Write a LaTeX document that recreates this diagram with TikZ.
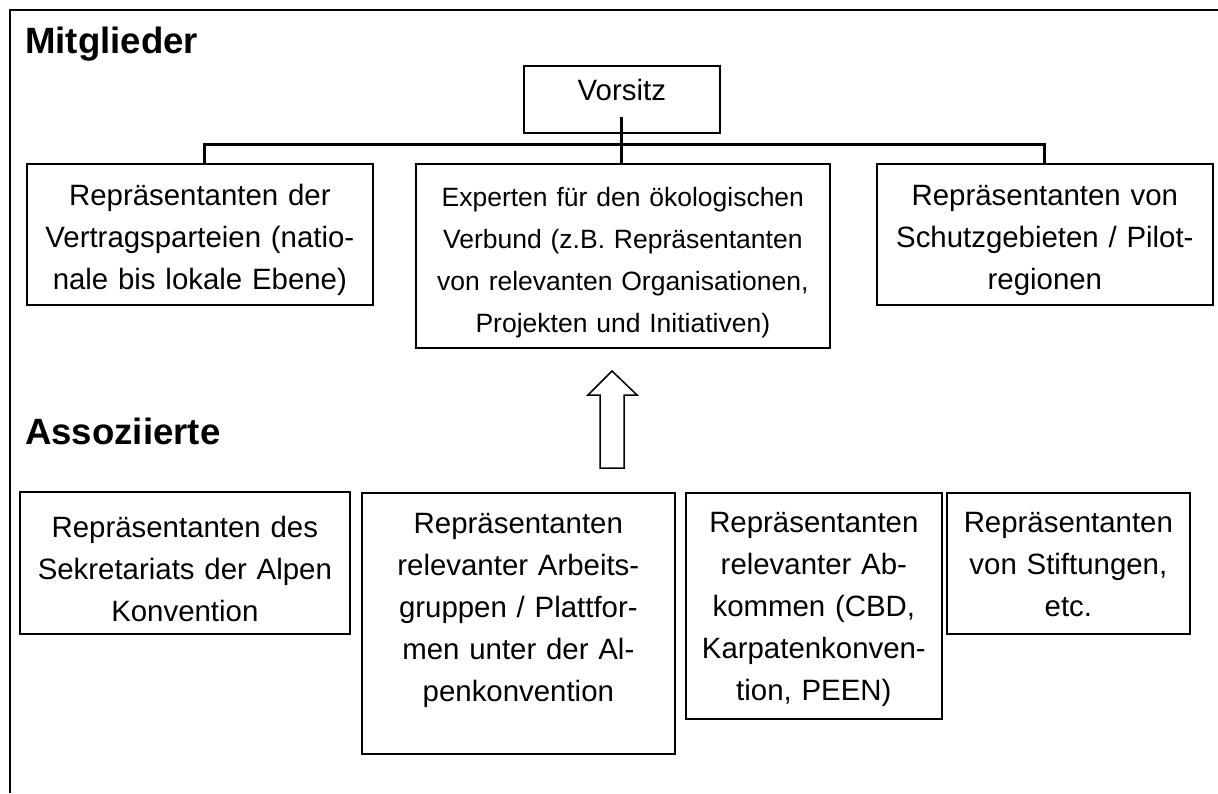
\documentclass[tikz,border=0pt]{standalone}
\usepackage{fontspec}
\setmainfont{Liberation Sans}
\usetikzlibrary{positioning}

\tikzset{
  kasten/.style={draw,line width=1.7pt,anchor=north west,align=center,inner xsep=4pt,inner ysep=0pt,
    font=\fontsize{29.4}{42}\selectfont},
  klein/.style={font=\fontsize{26.5}{42}\selectfont},
  titel/.style={anchor=base west,inner sep=0pt,font=\fontsize{36.6}{44}\selectfont\bfseries},
  verbindung/.style={line width=3pt},
}

\begin{document}
\begin{tikzpicture}[x=1pt,y=-1pt]

    \useasboundingbox (0,0) rectangle (1218,793);

    % --------------------------------------------------------- %
    % ------------- frame and titles
    % --------------------------------------------------------- %
    \draw[line width=2pt] (1218,10) -- (10,10) -- (10,793);
    \node[titel] (mitglieder) at (25,53) {Mitglieder};
    \node[titel] (assoziierte) at (25,444) {Assoziierte};

    % --------------------------------------------------------- %
    % ------------- members
    % --------------------------------------------------------- %
    \node[kasten,text width=188pt,text height=35pt,text depth=32pt] (vorsitz) at (523,65) {Vorsitz};

    \node[kasten,text width=338pt,text height=42pt,text depth=99pt] (vertrag) at (26,163)
      {Repräsentanten der\\Vertragsparteien (natio-\\nale bis lokale Ebene)};
    \node[kasten,klein,text width=406pt,text height=43pt,text depth=141pt] (experten) at (415,163)
      {Experten für den ökologischen\\Verbund (z.B. Repräsentanten\\von relevanten Organisationen,\\Projekten und Initiativen)};
    \node[kasten,text width=328pt,text height=42pt,text depth=99pt] (schutz) at (876,163)
      {Repräsentanten von\\Schutzgebieten / Pilot-\\regionen};

    \coordinate (vstart) at (621,117);
    \coordinate (links) at (204,144);
    \coordinate (rechts) at (1044,144);
    \draw[verbindung] (links |- vertrag.north) -- (links) -- (rechts) -- (rechts |- schutz.north);
    \draw[verbindung] (vstart) -- (vstart |- experten.north);

    % --------------------------------------------------------- %
    % ------------- associates
    % --------------------------------------------------------- %
    \draw[line width=1.5pt,line join=miter] (600,468) -- (600,395) -- (588,395) -- (612,371)
      -- (637,395) -- (624,395) -- (624,468) -- cycle;

    \node[kasten,text width=322pt,text height=46pt,text depth=96pt] (sekretariat) at (19,491)
      {Repräsentanten des\\Sekretariats der Alpen\\Konvention};
    \node[kasten,text width=305pt,text height=41pt,text depth=220pt] (arbeitsgruppen) at (361,492)
      {Repräsentanten\\relevanter Arbeits-\\gruppen / Plattfor-\\men unter der Al-\\penkonvention};
    \node[kasten,text width=248pt,text height=40pt,text depth=186pt] (abkommen) at (685,492)
      {Repräsentanten\\relevanter Ab-\\kommen (CBD,\\Karpatenkonven-\\tion, PEEN)};
    \node[kasten,text width=235pt,text height=40pt,text depth=101pt] (stiftungen) at (946,492)
      {Repräsentanten\\von Stiftungen,\\etc.};

  \end{tikzpicture}
\end{document}
